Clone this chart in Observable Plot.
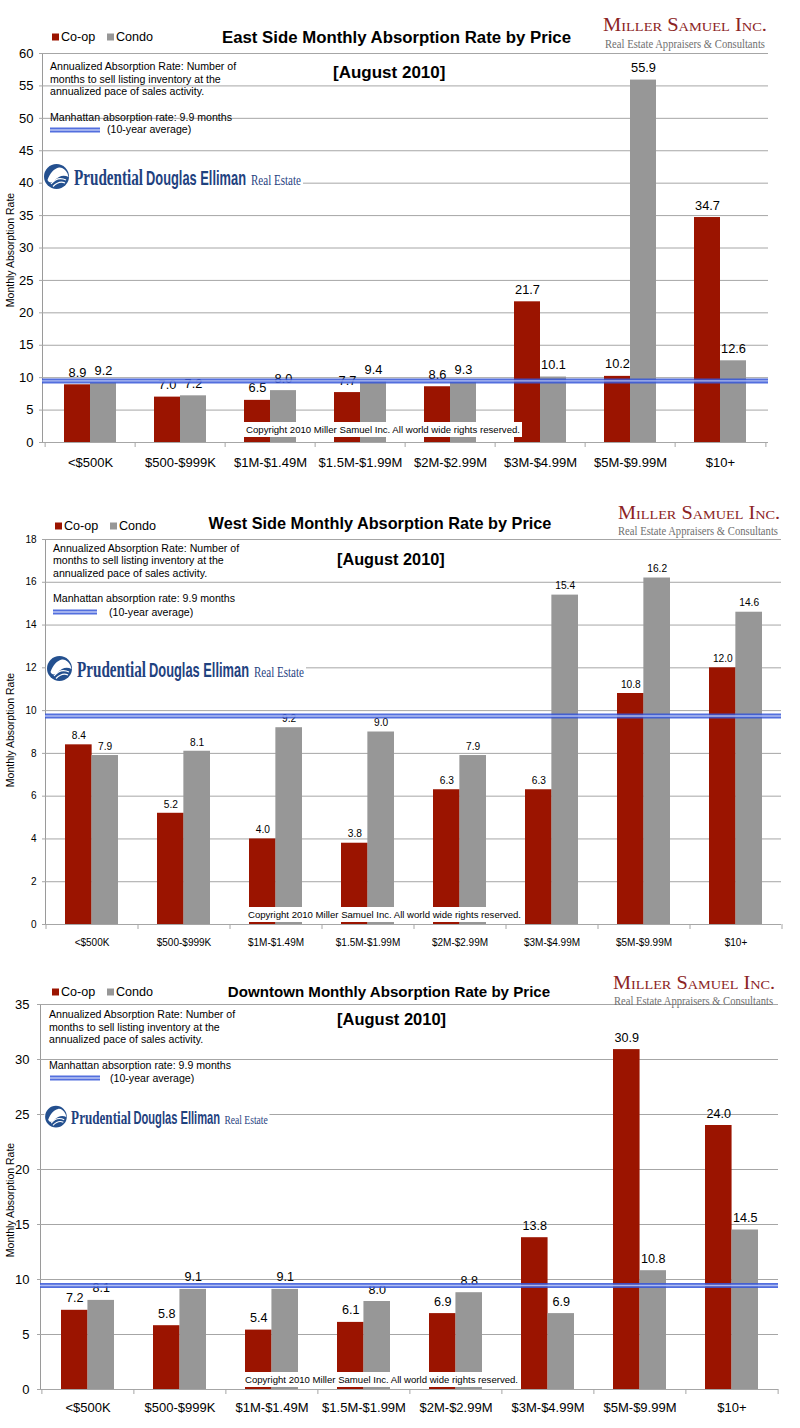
<!DOCTYPE html>
<html><head><meta charset="utf-8">
<script src="https://cdn.jsdelivr.net/npm/d3@7"></script>
<script src="https://cdn.jsdelivr.net/npm/@observablehq/plot@0.6"></script>
<style>
body{margin:0;background:#fff;}
#root{position:relative;width:800px;height:1428px;overflow:hidden;background:#fff;}
.panel{position:absolute;left:0;width:800px;height:476px;}
.panel svg{position:absolute;left:0;top:0;}
.plotsvg text{fill:#000;}
.overlay{pointer-events:none;}
</style></head><body><div id="root"></div>
<script>
// ---------- data ----------
const categories = ["<$500K","$500-$999K","$1M-$1.49M","$1.5M-$1.99M","$2M-$2.99M","$3M-$4.99M","$5M-$9.99M","$10+"];
const seriesNames = ["Co-op","Condo"];
const eastCoop  = [8.9, 7.0, 6.5, 7.7, 8.6, 21.7, 10.2, 34.7];
const eastCondo = [9.2, 7.2, 8.0, 9.4, 9.3, 10.1, 55.9, 12.6];
const westCoop  = [8.4, 5.2, 4.0, 3.8, 6.3, 6.3, 10.8, 12.0];
const westCondo = [7.9, 8.1, 9.2, 9.0, 7.9, 15.4, 16.2, 14.6];
const downtownCoop  = [7.2, 5.8, 5.4, 6.1, 6.9, 13.8, 30.9, 24.0];
const downtownCondo = [8.1, 9.1, 9.1, 8.0, 8.8, 6.9, 10.8, 14.5];
const eastTicks = [0,5,10,15,20,25,30,35,40,45,50,55,60];
const westTicks = [0,2,4,6,8,10,12,14,16,18];
const downtownTicks = [0,5,10,15,20,25,30,35];
const averageLineDrawn = [9.5, 9.75, 9.45]; // Manhattan 10-year average line, as drawn
const titles = ["East Side Monthly Absorption Rate by Price","West Side Monthly Absorption Rate by Price","Downtown Monthly Absorption Rate by Price"];
const periodLabel = "[August 2010]";
const noteLines = ["Annualized Absorption Rate: Number of","months to sell listing inventory at the","annualized pace of sales activity."];
const avgNote = "Manhattan absorption rate: 9.9 months";
const avgNote2 = "(10-year average)";
const yTitle = "Monthly Absorption Rate";
const copyrightText = "Copyright 2010 Miller Samuel Inc.  All world wide rights reserved.";

// ---------- styles ----------
const SANS = "Liberation Sans, Arial, Helvetica, sans-serif";
const SERIF = "Liberation Serif, Times New Roman, serif";
const coopColor = "#9b1400";
const condoColor = "#979797";
const gridColor = "#a6a6a6";
const blueDark = "#3556d8";
const blueLight = "#c8d2f6";
const logoBlue = "#1f427f";

const panels = [
 {top:0, coop:eastCoop, condo:eastCondo, ticks:eastTicks, avg:averageLineDrawn[0], title:titles[0],
  mt:53, mb:34, ml:42, mr:32, tickFont:13, valueFont:12.8, labelDy:12, xPad:15, yPad:9,
  legY:37, legX:52, titleX:396.5, titleY:37, titleSize:16.8, augX:333, augY:72, augSize:17,
  noteX:50, noteY:[66,79,91.5,117], line:{x1:50,x2:100,y:130}, avgTextX:107, avgTextY:129,
  logo:{x:45,y:163,s:1}, miller:{x:603,w:164,y:31,sx:605,sw:160,sy:47.5},
  copy:{x:244,y:422,w:278}, ylab:250},
 {top:476, coop:westCoop, condo:westCondo, ticks:westTicks, avg:averageLineDrawn[1], title:titles[1],
  mt:63, mb:28, ml:45, mr:19, tickFont:10, valueFont:10.2, labelDy:9, xPad:14, yPad:9,
  legY:50, legX:55, titleX:380, titleY:47, titleSize:16.3, augX:337, augY:83, augSize:16.3,
  noteX:53, noteY:[72,84,97,122], line:{x1:53,x2:97,y:136}, avgTextX:109, avgTextY:136,
  logo:{x:48,y:179,s:1}, miller:{x:618,w:162,y:42.5,sx:618,sw:160,sy:58.5},
  copy:{x:246,y:431,w:277}, ylab:254},
 {top:952, coop:downtownCoop, condo:downtownCondo, ticks:downtownTicks, avg:averageLineDrawn[2], title:titles[2],
  mt:52, mb:39, ml:40, mr:22, tickFont:13, valueFont:12.6, labelDy:12, xPad:13, yPad:11,
  legY:40, legX:52, titleX:389, titleY:40, titleSize:15.1, augX:337, augY:67, augSize:16.5,
  noteX:49, noteY:[62,75,87,113], line:{x1:50,x2:100,y:126}, avgTextX:110, avgTextY:126,
  logo:{x:46,y:153,s:0.866}, miller:{x:613,w:162,y:36.5,sx:614,sw:159,sy:52.5},
  copy:{x:243,y:420,w:277}, ylab:248}
];

const root = document.getElementById("root");

function drawPanel(cfg) {
  const div = document.createElement("div");
  div.className = "panel";
  div.style.top = cfg.top + "px";
  root.appendChild(div);

  const rows = categories.map((c, i) => ({cat: c, coop: cfg.coop[i], condo: cfg.condo[i]}));
  const step = (800 - cfg.ml - cfg.mr) / categories.length;
  const pi = 0.427;
  const half = step * (1 - pi) / 2;
  const last = categories[categories.length - 1];

  const plot = Plot.plot({
    width: 800, height: 476,
    marginTop: cfg.mt, marginBottom: cfg.mb, marginLeft: cfg.ml, marginRight: cfg.mr,
    style: {background: "transparent", color: "#9a9a9a", fontFamily: SANS, fontSize: cfg.tickFont + "px", overflow: "visible"},
    x: {domain: categories, paddingInner: pi, paddingOuter: pi / 2, align: 0.5, tickSize: 0, tickPadding: cfg.xPad, label: null},
    y: {domain: [0, cfg.ticks[cfg.ticks.length - 1]], ticks: cfg.ticks, tickSize: 0, tickPadding: cfg.yPad, label: null, line: true},
    marks: [
      Plot.ruleY(cfg.ticks, {stroke: gridColor, insetLeft: -3}),
      Plot.ruleX(categories, {x: d => d, dx: -step / 2, y1: 0, y2: 0, insetBottom: -5, stroke: gridColor}),
      Plot.ruleX([last], {x: d => d, dx: step / 2, y1: 0, y2: 0, insetBottom: -5, stroke: gridColor}),
      Plot.barY(rows, {x: "cat", y: "coop", fill: coopColor, insetRight: half, title: d => seriesNames[0]}),
      Plot.barY(rows, {x: "cat", y: "condo", fill: condoColor, insetLeft: half, title: d => seriesNames[1]}),
      Plot.text(rows, {x: "cat", y: "coop", text: d => d.coop.toFixed(1), dx: -half / 2, dy: -cfg.labelDy, fontSize: cfg.valueFont, fill: "#000"}),
      Plot.text(rows, {x: "cat", y: "condo", text: d => d.condo.toFixed(1), dx: half / 2, dy: -cfg.labelDy, fontSize: cfg.valueFont, fill: "#000"}),
      Plot.ruleY([cfg.avg], {stroke: blueDark, strokeWidth: 5, strokeOpacity: 0.85}),
      Plot.ruleY([cfg.avg], {stroke: blueLight, strokeWidth: 1.4, strokeOpacity: 0.8})
    ]
  });
  plot.classList.add("plotsvg");
  div.appendChild(plot);

  // ---------- overlay annotations ----------
  const ov = d3.create("svg").attr("class", "overlay").attr("width", 800).attr("height", 476)
    .attr("font-family", SANS);

  const txt = (x, y, s, o = {}) => ov.append("text").attr("x", x).attr("y", y).attr("dy", "0.35em")
    .attr("font-size", o.size || 10.6).attr("font-weight", o.weight || "normal")
    .attr("text-anchor", o.anchor || "start").attr("fill", o.fill || "#000")
    .attr("font-family", o.family || SANS).text(s);

  // legend
  ov.append("rect").attr("x", cfg.legX).attr("y", cfg.legY - 3.5).attr("width", 7).attr("height", 7).attr("fill", coopColor);
  txt(cfg.legX + 9, cfg.legY, seriesNames[0], {size: 12.6});
  ov.append("rect").attr("x", cfg.legX + 55).attr("y", cfg.legY - 3.5).attr("width", 7).attr("height", 7).attr("fill", condoColor);
  txt(cfg.legX + 64, cfg.legY, seriesNames[1], {size: 12.6});

  // title & period
  txt(cfg.titleX, cfg.titleY, cfg.title, {size: cfg.titleSize, weight: "bold", anchor: "middle"});
  txt(cfg.augX, cfg.augY, periodLabel, {size: cfg.augSize, weight: "bold"});

  // notes
  noteLines.forEach((s, i) => txt(cfg.noteX, cfg.noteY[i], s));
  txt(cfg.noteX, cfg.noteY[3], avgNote);
  ov.append("line").attr("x1", cfg.line.x1).attr("x2", cfg.line.x2).attr("y1", cfg.line.y).attr("y2", cfg.line.y)
    .attr("stroke", blueDark).attr("stroke-width", 5).attr("stroke-opacity", 0.85);
  ov.append("line").attr("x1", cfg.line.x1).attr("x2", cfg.line.x2).attr("y1", cfg.line.y).attr("y2", cfg.line.y)
    .attr("stroke", blueLight).attr("stroke-width", 1.4).attr("stroke-opacity", 0.9);
  txt(cfg.avgTextX, cfg.avgTextY, avgNote2);

  // y title
  ov.append("text").attr("transform", `translate(10,${cfg.ylab}) rotate(-90)`).attr("dy", "0.35em")
    .attr("text-anchor", "middle").attr("font-size", 10.5).attr("fill", "#000").text(yTitle);

  // Miller Samuel logo
  const m = cfg.miller;
  ov.append("text").attr("x", m.x).attr("y", m.y).attr("font-family", SERIF).attr("font-size", 18.5)
    .attr("font-variant", "small-caps").attr("fill", "#8b2323").attr("textLength", m.w)
    .attr("lengthAdjust", "spacingAndGlyphs").text("Miller Samuel Inc.");
  ov.append("text").attr("x", m.sx).attr("y", m.sy).attr("font-family", SERIF).attr("font-size", 11.5)
    .attr("fill", "#6f6f6f").attr("textLength", m.sw).attr("lengthAdjust", "spacingAndGlyphs")
    .text("Real Estate Appraisers & Consultants");

  // Prudential Douglas Elliman logo
  const L = cfg.logo;
  const lg = ov.append("g").attr("transform", `translate(${L.x},${L.y}) scale(${L.s})`);
  lg.append("rect").attr("x", -2).attr("y", -1).attr("width", 260).attr("height", 30).attr("fill", "#fff");
  lg.append("circle").attr("cx", 11.5).attr("cy", 13.5).attr("r", 12.5).attr("fill", "#24508f");
  lg.append("path").attr("d", "M2.5,17 C5,10 9,5.5 14,4.5 C17.5,4 20.5,6.5 22.5,10.5 L23.5,14 C19,11.5 14,12.5 9.5,17.5 C7,20 4.5,20.5 2.5,17 Z")
    .attr("fill", "#fff");
  lg.append("path").attr("d", "M6,21 C10,16 15,14 21,17 M8,23.5 C12,19.5 16,18 20,20 M11,9 C13,8 16,8 18,10")
    .attr("fill", "none").attr("stroke", "#fff").attr("stroke-width", 1.2);
  const logoWord = (x, s, fam, weight, size, len, ky) => lg.append("g")
    .attr("transform", `translate(${x},22) scale(1,${ky})`)
    .append("text").attr("x", 0).attr("y", 0).attr("font-family", fam).attr("font-weight", weight)
    .attr("font-size", size).attr("fill", logoBlue).attr("textLength", len)
    .attr("lengthAdjust", "spacingAndGlyphs").text(s);
  logoWord(29, "Prudential", SERIF, "bold", 15, 69, 1.5);
  logoWord(101, "Douglas Elliman", SANS, "bold", 12.8, 100, 1.6);
  logoWord(206, "Real Estate", SERIF, "normal", 11, 50, 1.25);

  // copyright box
  const c = cfg.copy;
  ov.append("rect").attr("x", c.x).attr("y", c.y).attr("width", c.w).attr("height", 15).attr("fill", "#fff");
  ov.append("text").attr("x", c.x + 2).attr("y", c.y + 7.5).attr("dy", "0.35em").attr("font-size", 9.5)
    .attr("fill", "#000").attr("textLength", c.w - 4).attr("lengthAdjust", "spacingAndGlyphs").text(copyrightText);

  div.appendChild(ov.node());
}

panels.forEach(drawPanel);
</script>
</body></html>
